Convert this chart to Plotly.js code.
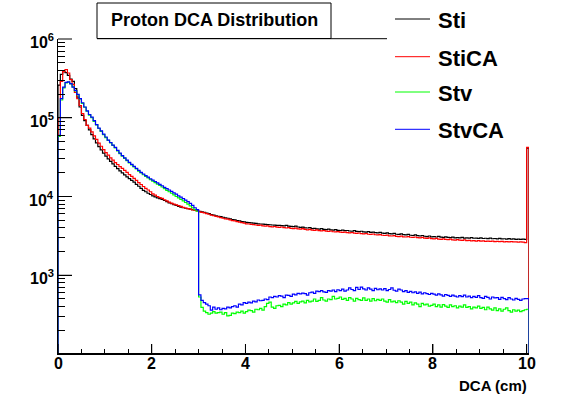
<!DOCTYPE html>
<html><head><meta charset="utf-8">
<script src="https://cdn.plot.ly/plotly-3.0.1.min.js"></script>
<style>html,body{margin:0;padding:0;background:#fff}#chart{width:587px;height:394px}</style>
</head><body><div id="chart"></div>
<script>
// Histogram: 201 bins of 0.05 cm starting at 0 (last bin 10.00-10.05)
const binStart = 0;
const binWidth = 0.05;
const seriesNames = ['Sti', 'StiCA', 'Stv', 'StvCA'];
const xTickValues = [0, 2, 4, 6, 8, 10];
const xTickLabels = ['0', '2', '4', '6', '8', '10'];
const yTickValues = [1e3, 1e4, 1e5, 1e6];
const yTickLabels = ['10<sup>3</sup>', '10<sup>4</sup>', '10<sup>5</sup>', '10<sup>6</sup>'];
const xTitle = 'DCA (cm)';
const chartTitle = 'Proton DCA Distribution';

const sti = [
260000,355000,385000,375000,345000,310000,290000,234000,183000,137000,
107000,92000,80000,70000,61000,54000,48000,43000,39000,35500,
32500,30000,28000,26000,24200,22600,21200,20000,18800,17800,
16900,16000,15200,14300,13500,12700,12000,11500,11000,10600,
10200,9900,9600,9400,9200,8900,8600,8300,8100,7900,
7700,7500,7350,7200,7100,7000,6900,6800,6700,6600,
6500,6400,6300,6150,6050,5900,5800,5700,5600,5550,
5450,5350,5300,5200,5100,5050,4950,4900,4800,4750,
4700,4650,4620,4580,4550,4500,4480,4450,4430,4400,
4380,4350,4330,4310,4300,4280,4250,4300,4200,4180,
4150,4200,4100,4050,4080,4000,3980,4020,3900,3950,
3880,3850,3900,3820,3800,3850,3780,3750,3800,3720,
3700,3750,3680,3700,3650,3620,3680,3600,3580,3620,
3550,3530,3580,3500,3520,3480,3450,3500,3420,3400,
3450,3380,3350,3400,3320,3300,3350,3280,3250,3300,
3220,3200,3250,3180,3150,3200,3130,3100,3150,3080,
3100,3060,3120,3050,3030,3080,3020,3000,3050,2990,
3010,2980,3030,2970,2990,2960,3000,2950,2970,2940,
2980,2930,2950,2920,2960,2910,2930,2900,2940,2890,
2910,2880,2920,2870,2890,2860,2880,2850,2870,2850,
41000];

const stiCA = [
100000,290000,385000,410000,370000,305000,265000,210000,175000,143000,
113000,95000,80000,74000,66000,59000,53000,47500,43500,39500,
36000,33500,31000,29000,27000,25500,24000,22800,21500,20300,
19000,18000,17000,16000,15000,14200,13400,12700,12100,11500,
10800,10400,10000,9700,9450,9100,8800,8500,8250,8000,
7850,7650,7500,7300,7150,7000,6900,6750,6650,6550,
6400,6300,6200,6050,5950,5800,5700,5600,5500,5400,
5300,5200,5150,5050,4950,4900,4800,4720,4650,4580,
4500,4480,4420,4400,4350,4300,4320,4250,4200,4230,
4150,4120,4160,4080,4050,4100,4020,3980,4030,3950,
3920,3970,3880,3850,3900,3820,3780,3830,3750,3720,
3770,3680,3660,3700,3630,3600,3650,3570,3550,3590,
3520,3500,3540,3470,3450,3490,3420,3400,3440,3370,
3350,3390,3320,3300,3340,3270,3250,3290,3220,3200,
3240,3170,3150,3190,3120,3100,3140,3080,3060,3100,
3040,3020,3060,3000,2980,3020,2960,2940,2980,2920,
2900,2940,2880,2860,2900,2850,2830,2870,2820,2800,
2840,2790,2770,2810,2760,2780,2740,2760,2720,2750,
2710,2730,2700,2720,2690,2710,2680,2700,2670,2690,
2660,2680,2650,2670,2650,2660,2640,2660,2640,2600,
42000];

const stv = [
58000,168000,240000,278000,283000,270000,246000,220000,196000,174000,
152000,136000,121000,108000,100000,90000,81000,73000,67000,61000,
56000,51500,48000,44500,41500,38000,35000,32500,30500,28600,
26800,25200,23800,22400,21000,19900,18900,18000,17200,16400,
15700,15000,14400,13800,13200,12600,12000,11500,11000,10500,
10000,9600,9200,8800,8400,8000,7600,7200,6800,6500,
530,390,350,335,320,330,345,330,335,340,
320,335,305,310,330,325,340,335,350,330,
345,360,355,340,370,365,380,360,400,440,
455,395,380,410,415,400,430,420,450,430,
445,465,440,460,470,445,480,460,470,500,
465,480,520,485,470,500,490,540,500,510,
530,495,510,480,520,500,470,510,490,480,
515,480,500,470,505,475,495,480,500,470,
455,490,460,470,450,475,455,430,465,440,
455,420,445,430,400,440,420,430,405,415,
430,400,420,395,425,405,390,420,400,410,
385,405,395,420,390,400,375,395,385,405,
380,390,365,395,375,360,385,355,375,350,
370,385,355,340,365,350,360,345,355,365,
370];

const stvCA = [
60000,175000,245000,282000,285000,272000,245000,222000,198000,175000,
155000,137000,122000,110000,102000,92000,82000,74000,68000,62000,
57000,52000,48500,45000,42000,38500,35500,33000,31000,29000,
27200,25600,24200,22800,21500,20300,19300,18400,17600,16800,
16100,15500,14900,14300,13700,13100,12600,12100,11600,11100,
10700,10200,9800,9400,9000,8600,8200,7700,7200,6800,
564,480,450,430,410,360,395,370,385,365,
380,375,395,385,400,410,395,430,420,450,
440,455,445,470,460,485,475,480,500,490,
530,520,540,530,550,545,520,560,555,540,
575,565,590,580,595,585,560,600,610,590,
630,620,640,615,605,640,630,650,620,655,
640,665,630,650,690,660,640,700,660,705,
670,650,690,665,640,680,655,670,650,675,
640,660,690,645,630,665,650,620,640,605,
625,600,615,590,610,580,600,585,570,590,
575,560,580,565,545,570,555,540,560,545,
530,550,535,560,530,545,520,540,525,550,
520,510,540,525,500,530,515,520,495,525,
505,490,520,500,485,510,495,480,500,505,
505];

const seriesValues = [sti, stiCA, stv, stvCA];
const seriesColors = ['#000000', '#ff0000', '#00ff00', '#0000ff'];

function stepTrace(vals, color, name) {
  const x = [binStart], y = [1];
  for (let i = 0; i < vals.length; i++) { x.push(binStart + i * binWidth); y.push(vals[i]); }
  const end = binStart + vals.length * binWidth;
  x.push(end); y.push(vals[vals.length - 1]);
  x.push(end); y.push(1);
  return {type: 'scatter', mode: 'lines', x: x, y: y, name: name,
          line: {color: color, width: 1.2, shape: 'hv'}, hoverinfo: 'skip', showlegend: false};
}
const traces = seriesValues.map((v, i) => stepTrace(v, seriesColors[i], seriesNames[i]));

const xRange = [0, 10.05];
const yRange = [2.013, 6];

// pixel -> paper helpers for decorations
const PL = 58, PR = 529, PT = 39, PB = 353;
const W = PR - PL, H = PB - PT;
const px = x => (x - PL) / W;
const py = y => (PB - y) / H;
const xData = v => (v - xRange[0]) / (xRange[1] - xRange[0]);
const yData = v => (Math.log10(v) - yRange[0]) / (yRange[1] - yRange[0]);

const bold = {family: 'Liberation Sans, Arial, Helvetica, sans-serif', color: '#000', weight: 'bold'};
const shapes = [
  {type: 'rect', xref: 'paper', yref: 'paper', x0: px(97), x1: px(331), y0: py(38.5), y1: py(3),
   line: {color: '#000', width: 1}, fillcolor: '#fff', layer: 'above'},
  {type: 'line', xref: 'paper', yref: 'paper', x0: px(97), x1: px(387), y0: py(38.7), y1: py(38.7),
   line: {color: '#000', width: 1}}
];
const annotations = [
  {xref: 'paper', yref: 'paper', x: px(214), y: py(20.5), text: chartTitle, showarrow: false,
   xanchor: 'center', yanchor: 'middle', font: Object.assign({size: 18}, bold)},
  {xref: 'paper', yref: 'paper', x: px(528.5), y: py(385), text: xTitle, showarrow: false,
   xanchor: 'right', yanchor: 'middle', font: Object.assign({size: 15}, bold)}
];
// major ticks + labels
yTickValues.forEach((v, i) => {
  shapes.push({type: 'line', xref: 'paper', yref: 'paper', x0: 0, x1: 14 / W, y0: yData(v), y1: yData(v),
    line: {color: '#000', width: 1}});
  annotations.push({xref: 'paper', yref: 'paper', x: px(55.5), y: yData(v), yshift: -2, text: yTickLabels[i],
    showarrow: false, xanchor: 'right', yanchor: 'middle', font: Object.assign({size: 16}, bold)});
});
xTickValues.forEach((v, i) => {
  shapes.push({type: 'line', xref: 'paper', yref: 'paper', x0: xData(v), x1: xData(v), y0: 0, y1: 9 / H,
    line: {color: '#000', width: 1}});
  annotations.push({xref: 'paper', yref: 'paper', x: xData(v), y: py(363), text: xTickLabels[i],
    showarrow: false, xanchor: 'center', yanchor: 'middle', font: Object.assign({size: 16}, bold)});
});
// legend
const legendY = [19, 56.7, 92, 129.3];
seriesNames.forEach((n, i) => {
  shapes.push({type: 'line', xref: 'paper', yref: 'paper', x0: px(395), x1: px(430),
    y0: py(legendY[i]), y1: py(legendY[i]), line: {color: seriesColors[i], width: 1}});
  annotations.push({xref: 'paper', yref: 'paper', x: px(436), y: py(legendY[i] + 1.5), text: n,
    showarrow: false, xanchor: 'left', yanchor: 'middle', font: Object.assign({size: 22}, bold)});
});

const layout = {
  width: 587, height: 394,
  margin: {l: PL, r: 587 - PR, t: PT, b: 394 - PB},
  paper_bgcolor: '#fff', plot_bgcolor: '#fff', showlegend: false,
  font: {family: 'Liberation Sans, Arial, sans-serif', color: '#000'},
  xaxis: {range: xRange, tick0: 0, dtick: 2, ticks: 'inside', ticklen: 9, tickcolor: '#000',
    showticklabels: false, showline: true, linecolor: '#000', linewidth: 2,
    gridcolor: 'rgba(0,0,0,0)', zeroline: false,
    minor: {dtick: 0.5, ticks: 'inside', ticklen: 4, tickcolor: '#000', gridcolor: 'rgba(0,0,0,0)'}},
  yaxis: {type: 'log', range: yRange, dtick: 1, ticks: 'inside', ticklen: 14, tickcolor: '#000',
    showticklabels: false, showline: true, linecolor: '#000', linewidth: 1,
    gridcolor: 'rgba(0,0,0,0)', zeroline: false,
    minor: {dtick: 'D1', ticks: 'inside', ticklen: 7, tickcolor: '#000', gridcolor: 'rgba(0,0,0,0)'}},
  shapes: shapes, annotations: annotations
};
Plotly.newPlot('chart', traces, layout, {staticPlot: true, displayModeBar: false});
</script></body></html>
